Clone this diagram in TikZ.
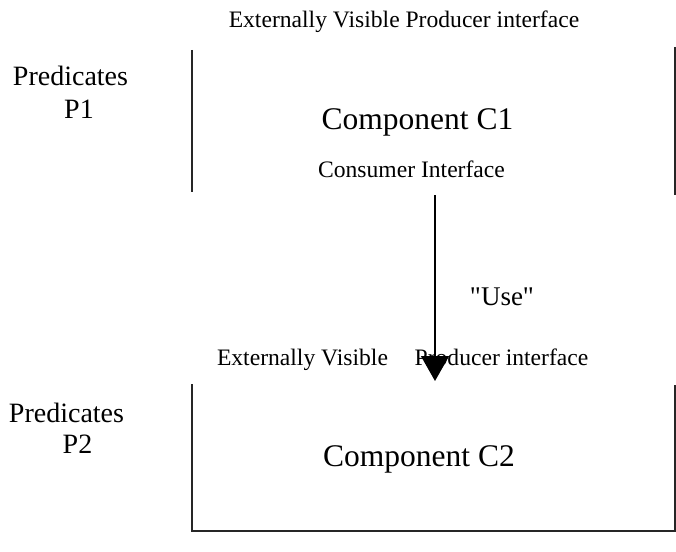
\documentclass[tikz,border=0pt]{standalone}
\usepackage{fontspec}
\setmainfont{Liberation Serif}
\newfontfamily\rawserif{Liberation Serif}
\usetikzlibrary{arrows.meta}
\begin{document}
\begin{tikzpicture}[x=1pt,y=-1pt,
  lbl/.style={anchor=base,inner sep=0pt,outer sep=0pt,font=\fontsize{23.6}{26}\selectfont},
  pred/.style={anchor=base,inner sep=0pt,outer sep=0pt,font=\fontsize{28}{32}\selectfont},
  comp/.style={anchor=base,inner sep=0pt,outer sep=0pt,font=\fontsize{31.5}{36}\selectfont},
  useLbl/.style={anchor=base,inner sep=0pt,outer sep=0pt,font=\rawserif\fontsize{27}{30}\selectfont},
  wall/.style={line width=1.6pt,black!85},
  usearrow/.style={line width=1.3pt,-{Triangle[length=25pt,width=28pt]}}]
\useasboundingbox (0,0) rectangle (676,551);
% component C1
\node[lbl] (ev1) at (404,28) {Externally Visible Producer interface};
\node[pred] (pred1) at (70.5,85) {Predicates};
\node[pred] (p1) at (79,118) {P1};
\node[comp] (c1) at (417.5,129) {Component C1};
\node[lbl] (ci) at (411.5,177) {Consumer Interface};
\coordinate (c1lt) at (192,50);
\coordinate (c1lb) at (192,192);
\coordinate (c1rt) at (675,47);
\coordinate (c1rb) at (675,195);
\draw[wall] (c1lt) -- (c1lb);
\draw[wall] (c1rt) -- (c1rb);
% component C2
\node[lbl] (ev2) at (302.5,365) {Externally Visible};
\node[lbl] (pi2) at (501.5,365) {Producer interface};
\node[pred] (pred2) at (66.5,422) {Predicates};
\node[pred] (p2) at (77.5,453) {P2};
\node[comp] (c2) at (419,466) {Component C2};
\coordinate (c2lt) at (192,384);
\coordinate (c2lb) at (192,531);
\coordinate (c2rb) at (675,531);
\coordinate (c2rt) at (675,385);
\draw[wall] (c2lt) -- (c2lb) -- (c2rb) -- (c2rt);
% use arrow
\node[useLbl] (use) at (502,305) {"Use"};
\coordinate (astart) at (435,195);
\coordinate (aend) at (435,381);
\draw[usearrow] (astart) -- (aend);
\end{tikzpicture}
\end{document}
